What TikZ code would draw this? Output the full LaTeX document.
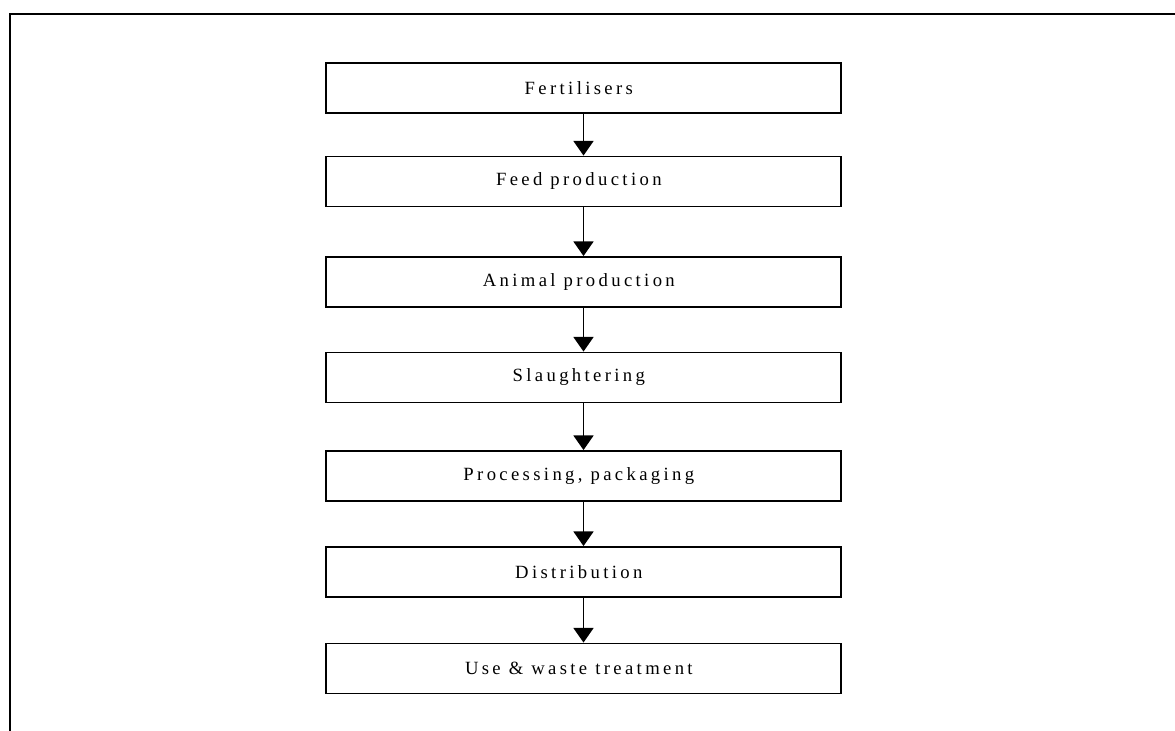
\documentclass[tikz,border=0pt]{standalone}
\usepackage{fontspec}
\setmainfont{Liberation Serif}[LetterSpace=18]
\usetikzlibrary{arrows.meta}
\newcommand{\stagetext}[1]{#1\hspace*{7pt}}
\begin{document}
\begin{tikzpicture}[x=0.75pt,y=-0.75pt,
  stage/.style={draw, line width=1.4pt, minimum width=386pt, minimum height=37.5pt,
    inner sep=0pt, font=\fontsize{14}{16}\selectfont, anchor=center},
  flow/.style={line width=1.4pt, -{Triangle[length=11pt,width=15pt]}},
  frameline/.style={line width=1.6pt}]
\useasboundingbox (0,0) rectangle (1175,731);
\coordinate (fb) at (10,731);
\coordinate (fc) at (10,14);
\coordinate (fr) at (1175,14);
\draw[frameline] (fb) -- (fc) -- (fr);
\node[stage] (n1) at (583.5,88) {\stagetext{Fertilisers}};
\node[stage] (n2) at (583.5,181.5) {\stagetext{Feed production}};
\node[stage] (n3) at (583.5,282) {\stagetext{Animal production}};
\node[stage] (n4) at (583.5,377.5) {\stagetext{Slaughtering}};
\node[stage] (n5) at (583.5,476) {\stagetext{Processing, packaging}};
\node[stage] (n6) at (583.5,572) {\stagetext{Distribution}};
\node[stage] (n7) at (583.5,668.5) {\stagetext{Use \& waste treatment}};
\draw[flow] (n1) -- (n2);
\draw[flow] (n2) -- (n3);
\draw[flow] (n3) -- (n4);
\draw[flow] (n4) -- (n5);
\draw[flow] (n5) -- (n6);
\draw[flow] (n6) -- (n7);
\end{tikzpicture}
\end{document}
